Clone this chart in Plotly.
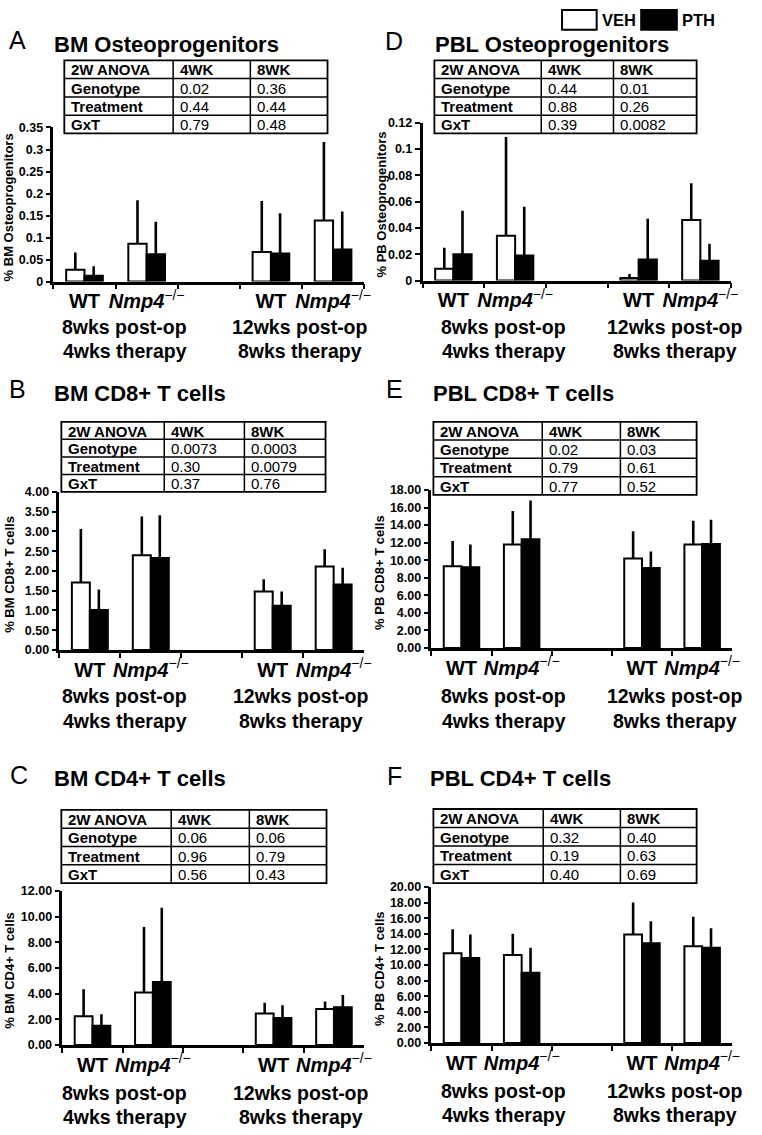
import plotly.graph_objects as go

W, H = 762, 1135
FONT = "Liberation Sans, Arial, sans-serif"

# ---------------- data ----------------
groups = ["WT_8wk", "Nmp4_8wk", "gap", "WT_12wk", "Nmp4_12wk"]
tick_text = ["<b>WT</b>", "<b><i>Nmp4</i></b><sup>−/−</sup>", " ",
             "<b>WT</b>", "<b><i>Nmp4</i></b><sup>−/−</sup>"]
series_names = ["VEH", "PTH"]

# A: BM Osteoprogenitors
A_veh = [0.027, 0.086, None, 0.067, 0.139]
A_veh_sd = [0.039, 0.099, None, 0.116, 0.178]
A_pth = [0.013, 0.062, None, 0.064, 0.073]
A_pth_sd = [0.022, 0.074, None, 0.091, 0.086]
# D: PBL Osteoprogenitors
D_veh = [0.009, 0.034, None, 0.002, 0.046]
D_veh_sd = [0.016, 0.075, None, 0.003, 0.028]
D_pth = [0.020, 0.019, None, 0.016, 0.015]
D_pth_sd = [0.033, 0.037, None, 0.031, 0.013]
# B: BM CD8+ T cells
B_veh = [1.71, 2.40, None, 1.48, 2.11]
B_veh_sd = [1.35, 0.98, None, 0.31, 0.44]
B_pth = [1.01, 2.33, None, 1.12, 1.66]
B_pth_sd = [0.52, 1.08, None, 0.36, 0.42]
# E: PBL CD8+ T cells
E_veh = [9.3, 11.8, None, 10.2, 11.8]
E_veh_sd = [2.9, 3.8, None, 3.1, 2.7]
E_pth = [9.2, 12.4, None, 9.1, 11.85]
E_pth_sd = [2.6, 4.4, None, 1.9, 2.75]
# C: BM CD4+ T cells
C_veh = [2.25, 4.1, None, 2.45, 2.8]
C_veh_sd = [2.1, 5.1, None, 0.85, 0.6]
C_pth = [1.5, 4.9, None, 2.1, 2.95]
C_pth_sd = [0.9, 5.8, None, 1.0, 0.95]
# F: PBL CD4+ T cells
F_veh = [11.5, 11.3, None, 13.9, 12.4]
F_veh_sd = [3.1, 2.7, None, 4.1, 3.8]
F_pth = [10.9, 9.0, None, 12.8, 12.2]
F_pth_sd = [3.0, 3.2, None, 2.8, 2.5]

# two-way ANOVA tables
anova_header = ["2W ANOVA", "4WK", "8WK"]
anova_rows = ["Genotype", "Treatment", "GxT"]
A_p4 = ["0.02", "0.44", "0.79"]
A_p8 = ["0.36", "0.44", "0.48"]
D_p4 = ["0.44", "0.88", "0.39"]
D_p8 = ["0.01", "0.26", "0.0082"]
B_p4 = ["0.0073", "0.30", "0.37"]
B_p8 = ["0.0003", "0.0079", "0.76"]
E_p4 = ["0.02", "0.79", "0.77"]
E_p8 = ["0.03", "0.61", "0.52"]
C_p4 = ["0.06", "0.96", "0.56"]
C_p8 = ["0.06", "0.79", "0.43"]
F_p4 = ["0.32", "0.19", "0.40"]
F_p8 = ["0.40", "0.63", "0.69"]

footer_line1 = ["8wks post-op", "12wks post-op"]
footer_line2 = ["4wks therapy", "8wks therapy"]

# ---------------- layout (pixel geometry) ----------------
panels = [
    dict(letter="A", title="BM Osteoprogenitors", ytitle="% BM Osteoprogenitors",
         veh=A_veh, veh_sd=A_veh_sd, pth=A_pth, pth_sd=A_pth_sd, p4=A_p4, p8=A_p8,
         ymax=0.35, dtick=0.05, fmt="",
         box=(54, 368, 122, 278), table=(65, 331, 54, 128), cols=(175, 253),
         letter_xy=(18, 33), title_xy=(53, 38), ytitle_xy=(9, 203),
         foot_x=(126, 303), foot_y=(324, 348)),
    dict(letter="D", title="PBL Osteoprogenitors", ytitle="% PB Osteoprogenitors",
         veh=D_veh, veh_sd=D_veh_sd, pth=D_pth, pth_sd=D_pth_sd, p4=D_p4, p8=D_p8,
         ymax=0.12, dtick=0.02, fmt="",
         box=(427, 739, 117, 277), table=(439, 704, 54, 128), cols=(547, 620),
         letter_xy=(398, 34), title_xy=(438, 38), ytitle_xy=(386, 200),
         foot_x=(509, 682), foot_y=(324, 348)),
    dict(letter="B", title="BM CD8+ T cells", ytitle="% BM CD8+ T cells",
         veh=B_veh, veh_sd=B_veh_sd, pth=B_pth, pth_sd=B_pth_sd, p4=B_p4, p8=B_p8,
         ymax=4.0, dtick=0.5, fmt=".2f",
         box=(60, 368, 491, 651), table=(62, 329, 420, 491), cols=(166, 247),
         letter_xy=(18, 387), title_xy=(53, 391), ytitle_xy=(10, 574),
         foot_x=(126, 304), foot_y=(698, 723)),
    dict(letter="E", title="PBL CD8+ T cells", ytitle="% PB CD8+ T cells",
         veh=E_veh, veh_sd=E_veh_sd, pth=E_pth, pth_sd=E_pth_sd, p4=E_p4, p8=E_p8,
         ymax=18.0, dtick=2.0, fmt=".2f",
         box=(436, 740, 489, 649), table=(438, 704, 420, 494), cols=(548, 627),
         letter_xy=(399, 387), title_xy=(436, 391), ytitle_xy=(384, 572),
         foot_x=(509, 682), foot_y=(698, 723)),
    dict(letter="C", title="BM CD4+ T cells", ytitle="% BM CD4+ T cells",
         veh=C_veh, veh_sd=C_veh_sd, pth=C_pth, pth_sd=C_pth_sd, p4=C_p4, p8=C_p8,
         ymax=12.0, dtick=2.0, fmt=".2f",
         box=(63, 368, 895, 1051), table=(62, 330, 813, 887), cols=(173, 252),
         letter_xy=(19, 778), title_xy=(53, 781), ytitle_xy=(10, 975),
         foot_x=(126, 304), foot_y=(1100, 1124)),
    dict(letter="F", title="PBL CD4+ T cells", ytitle="% PB CD4+ T cells",
         veh=F_veh, veh_sd=F_veh_sd, pth=F_pth, pth_sd=F_pth_sd, p4=F_p4, p8=F_p8,
         ymax=20.0, dtick=2.0, fmt=".2f",
         box=(436, 740, 891, 1049), table=(438, 704, 812, 887), cols=(549, 627),
         letter_xy=(399, 779), title_xy=(433, 781), ytitle_xy=(384, 973),
         foot_x=(509, 682), foot_y=(1098, 1122)),
]


def fx(x):
    return x / W


def fy(y):
    return 1 - y / H


fig = go.Figure()
layout = dict(width=W, height=H, margin=dict(l=0, r=0, t=0, b=0),
              paper_bgcolor="white", plot_bgcolor="white",
              barmode="group", bargap=0.41, bargroupgap=0.0,
              showlegend=False, font=dict(family=FONT, color="black"))
annotations = []
shapes = []


def line_shape(xa, ya, xb, yb, w=1.5):
    return dict(type="line", xref="paper", yref="paper", x0=fx(xa), y0=fy(ya),
                x1=fx(xb), y1=fy(yb), line=dict(color="black", width=w))


for i, p in enumerate(panels):
    n = "" if i == 0 else str(i + 1)
    x0, x1, y0, y1 = p["box"]
    for name, vals, sd, fill in [("VEH", p["veh"], p["veh_sd"], "white"),
                                 ("PTH", p["pth"], p["pth_sd"], "black")]:
        fig.add_trace(go.Bar(
            x=groups, y=vals, name=name, xaxis="x" + n, yaxis="y" + n,
            offsetgroup=name,
            marker=dict(color=fill, line=dict(color="black", width=2)),
            error_y=dict(type="data", symmetric=False, array=sd,
                         arrayminus=[0 if v is not None else None for v in sd],
                         color="black", thickness=2.6, width=0),
        ))
    layout["xaxis" + n] = dict(
        domain=[fx(x0), fx(x1)], anchor="y" + n, type="category",
        categoryorder="array", categoryarray=groups, range=[-0.5, 4.5],
        tickvals=groups, ticktext=tick_text, tickson="boundaries", tickangle=0,
        ticks="outside", ticklen=5, tickwidth=2, tickcolor="black",
        showline=True, linewidth=2.5, linecolor="black", showgrid=False,
        tickfont=dict(family=FONT, size=20, color="black"), fixedrange=True)
    layout["yaxis" + n] = dict(
        domain=[fy(y1), fy(y0)], anchor="x" + n, range=[0, p["ymax"]],
        dtick=p["dtick"], tick0=0, tickformat=p["fmt"],
        ticks="outside", ticklen=5, tickwidth=2, tickcolor="black",
        showline=True, linewidth=2.5, linecolor="black", showgrid=False,
        zeroline=False,
        tickfont=dict(family=FONT, size=12.5, color="black", weight="bold"),
        fixedrange=True)

    # ANOVA table (grid lines + cell texts)
    tx0, tx1, ty0, ty1 = p["table"]
    c1, c2 = p["cols"]
    rowh = (ty1 - ty0) / 4.0
    shapes.append(dict(type="rect", xref="paper", yref="paper",
                       x0=fx(tx0), x1=fx(tx1), y0=fy(ty1), y1=fy(ty0),
                       fillcolor="white", line=dict(color="black", width=1.8)))
    for r in range(1, 4):
        yy = ty0 + r * rowh
        shapes.append(line_shape(tx0, yy, tx1, yy))
    for cx in (c1, c2):
        shapes.append(line_shape(cx, ty0, cx, ty1))
    col_x = [tx0, c1, c2]
    table_cols = [[anova_header[0]] + anova_rows,
                  [anova_header[1]] + p["p4"],
                  [anova_header[2]] + p["p8"]]
    for ci, col in enumerate(table_cols):
        for ri, txt in enumerate(col):
            bold = (ri == 0 or ci == 0)
            annotations.append(dict(
                text=("<b>%s</b>" % txt) if bold else txt,
                x=fx(col_x[ci] + 5), y=fy(ty0 + (ri + 0.5) * rowh + 0.5),
                xref="paper", yref="paper", xanchor="left", yanchor="middle",
                showarrow=False, font=dict(family=FONT, size=15, color="black")))

    # panel letter and title
    lx, ly = p["letter_xy"]
    annotations.append(dict(text=p["letter"], x=fx(lx), y=fy(ly), xref="paper", yref="paper",
                            xanchor="center", yanchor="middle", showarrow=False,
                            font=dict(family=FONT, size=25, color="black")))
    tx, ty = p["title_xy"]
    annotations.append(dict(text="<b>%s</b>" % p["title"], x=fx(tx), y=fy(ty),
                            xref="paper", yref="paper", xanchor="left", yanchor="middle",
                            showarrow=False, font=dict(family=FONT, size=22, color="black")))
    # y axis title
    yx, yy = p["ytitle_xy"]
    annotations.append(dict(text="<b>%s</b>" % p["ytitle"], x=fx(yx), y=fy(yy),
                            xref="paper", yref="paper", xanchor="center", yanchor="middle",
                            textangle=-90, showarrow=False,
                            font=dict(family=FONT, size=13, color="black")))
    # footers
    for k in range(2):
        for line, fyy in [(footer_line1[k], p["foot_y"][0]), (footer_line2[k], p["foot_y"][1])]:
            annotations.append(dict(text="<b>%s</b>" % line, x=fx(p["foot_x"][k]), y=fy(fyy),
                                    xref="paper", yref="paper", xanchor="center",
                                    yanchor="middle", showarrow=False,
                                    font=dict(family=FONT, size=19.5, color="black")))

# legend (top right)
leg = [("VEH", "white", 568, 603, 606), ("PTH", "black", 648, 684, 687)]
for name, col, bx0, bx1, txx in leg:
    shapes.append(dict(type="rect", xref="paper", yref="paper",
                       x0=fx(bx0), x1=fx(bx1), y0=fy(23), y1=fy(3),
                       fillcolor=col, line=dict(color="black", width=2)))
    annotations.append(dict(text="<b>%s</b>" % name, x=fx(txx), y=fy(13), xref="paper",
                            yref="paper", xanchor="left", yanchor="middle", showarrow=False,
                            font=dict(family=FONT, size=16.5, color="black")))

layout["annotations"] = annotations
layout["shapes"] = shapes
fig.update_layout(**layout)
fig.write_html("out.html", config={"displayModeBar": False},
               post_script="document.body.style.margin='0';document.body.style.padding='0';")
